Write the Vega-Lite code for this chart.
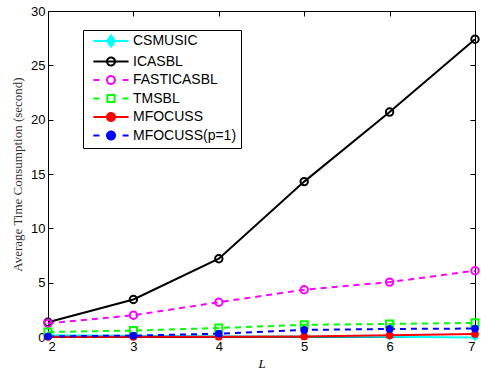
{
  "$schema": "https://vega.github.io/schema/vega-lite/v6.json",
  "width": 427,
  "height": 326,
  "autosize": "none",
  "padding": {"left": 48, "top": 11, "right": 6, "bottom": 34},
  "background": "white",
  "config": {
    "view": {"stroke": "black", "strokeWidth": 1},
    "axis": {"labelFont": "Liberation Sans", "labelFontSize": 13, "labelColor": "black", "domainColor": "black", "tickColor": "black", "tickOpacity": 1, "grid": false, "ticks": true, "zindex": 1}
  },
  "data": {"values": [
    {"L": 2, "method": "CSMUSIC", "t": 0.15},
    {"L": 3, "method": "CSMUSIC", "t": 0.12},
    {"L": 4, "method": "CSMUSIC", "t": 0.08},
    {"L": 5, "method": "CSMUSIC", "t": 0.05},
    {"L": 6, "method": "CSMUSIC", "t": 0.03},
    {"L": 7, "method": "CSMUSIC", "t": -0.05},
    {"L": 2, "method": "ICASBL", "t": 1.35},
    {"L": 3, "method": "ICASBL", "t": 3.45},
    {"L": 4, "method": "ICASBL", "t": 7.2},
    {"L": 5, "method": "ICASBL", "t": 14.3},
    {"L": 6, "method": "ICASBL", "t": 20.7},
    {"L": 7, "method": "ICASBL", "t": 27.4},
    {"L": 2, "method": "FASTICASBL", "t": 1.25},
    {"L": 3, "method": "FASTICASBL", "t": 2.0},
    {"L": 4, "method": "FASTICASBL", "t": 3.2},
    {"L": 5, "method": "FASTICASBL", "t": 4.35},
    {"L": 6, "method": "FASTICASBL", "t": 5.05},
    {"L": 7, "method": "FASTICASBL", "t": 6.1},
    {"L": 2, "method": "TMSBL", "t": 0.46},
    {"L": 3, "method": "TMSBL", "t": 0.59},
    {"L": 4, "method": "TMSBL", "t": 0.83},
    {"L": 5, "method": "TMSBL", "t": 1.12},
    {"L": 6, "method": "TMSBL", "t": 1.2},
    {"L": 7, "method": "TMSBL", "t": 1.3},
    {"L": 2, "method": "MFOCUSS", "t": 0.02},
    {"L": 3, "method": "MFOCUSS", "t": 0.02},
    {"L": 4, "method": "MFOCUSS", "t": 0.03},
    {"L": 5, "method": "MFOCUSS", "t": 0.05},
    {"L": 6, "method": "MFOCUSS", "t": 0.15},
    {"L": 7, "method": "MFOCUSS", "t": 0.27},
    {"L": 2, "method": "MFOCUSS(p=1)", "t": 0.06},
    {"L": 3, "method": "MFOCUSS(p=1)", "t": 0.13},
    {"L": 4, "method": "MFOCUSS(p=1)", "t": 0.31},
    {"L": 5, "method": "MFOCUSS(p=1)", "t": 0.65},
    {"L": 6, "method": "MFOCUSS(p=1)", "t": 0.74},
    {"L": 7, "method": "MFOCUSS(p=1)", "t": 0.78}
  ]},
  "resolve": {"axis": {"x": "independent", "y": "independent"}},
  "layer": [
    {
      "encoding": {
        "x": {"field": "L", "type": "quantitative", "scale": {"domain": [2, 7], "nice": false, "zero": false},
          "axis": {"orient": "bottom", "values": [2, 3, 4, 5, 6, 7], "title": "L", "titleFont": "Liberation Serif", "titleFontStyle": "italic", "titleFontWeight": "normal", "titleFontSize": 13, "titleColor": "black", "titlePadding": 4, "offset": -5, "tickSize": 5, "labelPadding": 3, "domain": false}},
        "y": {"field": "t", "type": "quantitative", "scale": {"domain": [0, 30], "nice": false},
          "axis": {"orient": "left", "values": [0, 5, 10, 15, 20, 25, 30], "title": "Average Time Consumption (second)", "titleFont": "Liberation Serif", "titleFontWeight": "normal", "titleFontSize": 13, "titleColor": "#333", "titlePadding": 6, "offset": -5, "tickSize": 5, "labelPadding": 3, "domain": false}},
        "color": {"field": "method", "type": "nominal",
          "scale": {"domain": ["CSMUSIC", "ICASBL", "FASTICASBL", "TMSBL", "MFOCUSS", "MFOCUSS(p=1)"], "range": ["#00FFFF", "#000000", "#FF00FF", "#00FF00", "#FF0000", "#0000FF"]},
          "legend": {"orient": "none", "legendX": 35, "legendY": 19, "zindex": 2, "title": null, "labelFont": "Liberation Sans", "labelFontSize": 14, "labelColor": "black", "strokeColor": "black", "fillColor": "white", "padding": 4, "symbolSize": 64, "symbolStrokeWidth": 2, "symbolOffset": 17, "labelOffset": 15, "rowPadding": 2.5,
            "encode": {"symbols": {"update": {
              "shape": {"signal": "datum.value === 'CSMUSIC' ? 'M-4.4,0H4.4M0,-1.4L1,0L0,1.4L-1,0Z' : datum.value === 'ICASBL' ? 'M-4.4,0H4.4M1,0A1,1 0 1 1 -1,0A1,1 0 1 1 1,0Z' : datum.value === 'FASTICASBL' ? 'M-4.4,0H-2.9M2.9,0H4.4M1,0A1,1 0 1 1 -1,0A1,1 0 1 1 1,0Z' : datum.value === 'TMSBL' ? 'M-4.4,0H-2.9M2.9,0H4.4M-0.9,-0.9H0.9V0.9H-0.9Z' : datum.value === 'MFOCUSS' ? 'M-4.4,0H4.4M1,0A1,1 0 1 1 -1,0A1,1 0 1 1 1,0Z' : 'M-4.4,0H-2.9M2.9,0H4.4M1,0A1,1 0 1 1 -1,0A1,1 0 1 1 1,0Z'"},
              "fillOpacity": {"signal": "datum.value === 'CSMUSIC' || datum.value === 'MFOCUSS' || datum.value === 'MFOCUSS(p=1)' ? 1 : 0"},
              "strokeDash": {"value": [1, 0]},
              "strokeWidth": {"value": 2},
              "opacity": {"value": 1}
            }}}}}
      },
      "layer": [
        {
          "transform": [{"filter": {"field": "method", "oneOf": ["CSMUSIC", "ICASBL", "MFOCUSS"]}}],
          "mark": {"type": "line", "strokeWidth": 2, "clip": false}
        },
        {
          "transform": [{"filter": {"field": "method", "oneOf": ["FASTICASBL", "TMSBL", "MFOCUSS(p=1)"]}}],
          "mark": {"type": "line", "strokeWidth": 2, "strokeDash": [6, 5], "clip": false}
        },
        {
          "transform": [{"filter": {"field": "method", "oneOf": ["ICASBL", "FASTICASBL"]}}],
          "mark": {"type": "point", "shape": "circle", "filled": false, "strokeWidth": 2, "size": 55, "opacity": 1, "clip": false}
        },
        {
          "transform": [{"filter": {"field": "method", "equal": "TMSBL"}}],
          "mark": {"type": "point", "shape": "square", "filled": false, "strokeWidth": 2, "size": 50, "opacity": 1, "clip": false}
        },
        {
          "transform": [{"filter": {"field": "method", "equal": "CSMUSIC"}}],
          "mark": {"type": "point", "shape": "diamond", "filled": true, "strokeWidth": 2, "size": 55, "opacity": 1, "clip": false},
          "encoding": {"color": {"field": "method", "type": "nominal", "legend": null}}
        },
        {
          "transform": [{"filter": {"field": "method", "oneOf": ["MFOCUSS", "MFOCUSS(p=1)"]}}],
          "mark": {"type": "point", "shape": "circle", "filled": true, "size": 60, "opacity": 1, "clip": false},
          "encoding": {"color": {"field": "method", "type": "nominal", "legend": null}}
        }
      ]
    },
    {
      "mark": {"type": "point", "opacity": 0},
      "encoding": {
        "x": {"field": "L", "type": "quantitative", "axis": {"orient": "top", "values": [2, 3, 4, 5, 6, 7], "labels": false, "title": null, "ticks": true, "offset": -5, "tickSize": 5, "tickWidth": 1, "tickColor": "black", "domain": false}},
        "y": {"field": "t", "type": "quantitative", "axis": {"orient": "right", "values": [0, 5, 10, 15, 20, 25, 30], "labels": false, "title": null, "ticks": true, "offset": -5, "tickSize": 5, "tickWidth": 1, "tickColor": "black", "domain": false}}
      }
    }
  ]
}
